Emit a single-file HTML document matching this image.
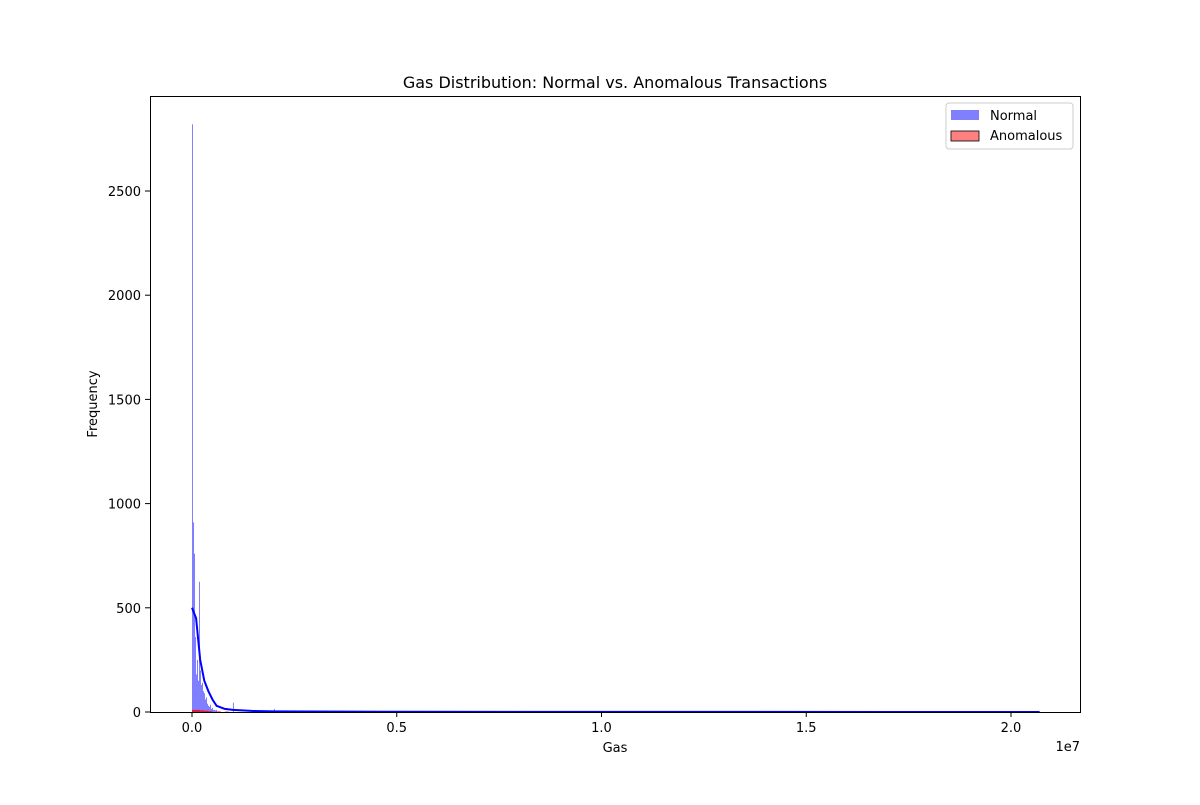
<!DOCTYPE html>
<html><head><meta charset="utf-8"><style>
body{margin:0;background:#fff;font-family:"Liberation Sans","DejaVu Sans",sans-serif}
svg text{font-family:"DejaVu Sans","Liberation Sans",sans-serif;font-size:13px}
</style></head><body>
<svg id="c" width="1200" height="800">
<rect x="0" y="0" width="1200" height="800" fill="#fff"/>
<text x="615" y="88" text-anchor="middle" font-size="16" style="font-size:16px">Gas Distribution: Normal vs. Anomalous Transactions</text>
<g id="bars"></g>
<g id="axes"></g>
<g>
<rect x="946" y="103" width="127" height="46" fill="#fff" stroke="#ccc" rx="3"/>
<rect x="951" y="110" width="28" height="10" fill="#8080ff"/>
<text x="990" y="120">Normal</text>
<rect x="951" y="131" width="28" height="10" fill="#ff8080" stroke="#000" stroke-width="0.8"/>
<text x="990" y="140">Anomalous</text>
</g>
</svg>
<script>
const binWidth = 24420;
const normalBinStarts = [0,24420,48840,73260,97680,122100,146520,170940,195360,219780,244200,268620,293040,317460,341880,366300,390720,415140,439560,463980,488400,512820,537240,561660,586080,1000000,2000000,2500000,8000000];
const normalCounts = [2820,910,760,360,180,250,150,625,200,130,140,100,90,60,70,40,30,25,35,15,20,10,10,8,10,45,15,6,5];
const anomBinStarts = [0,100000,200000,300000,400000,600000,800000];
const anomCounts = [10,10,8,6,4,3,2];
const kdeX = [0,100000,200000,300000,400000,500000,600000,800000,1000000,1500000,2000000,5000000,10000000,20700000];
const kdeY = [500,450,250,150,100,60,30,15,10,5,3,1,0.5,0];
const yTicks = [0,500,1000,1500,2000,2500];
const xTicks = [0,5e6,1e7,1.5e7,2e7];
const xTickLabels = ["0.0","0.5","1.0","1.5","2.0"];
const X = v => 192 + v * 819 / 2e7;
const Y = v => 712 - v * 521 / 2500;
const NS = "http://www.w3.org/2000/svg";
function mk(tag, attrs, parent){const e=document.createElementNS(NS,tag);for(const k in attrs)e.setAttribute(k,attrs[k]);parent.appendChild(e);return e;}
const bars = document.getElementById('bars');
normalBinStarts.forEach((s,i)=>{
  const r = mk('rect',{x:X(s),y:Y(normalCounts[i]),width:Math.max(X(s+binWidth)-X(s),1),height:712-Y(normalCounts[i]),fill:'#0000ff','fill-opacity':0.5},bars);
  
  
});
anomBinStarts.forEach((s,i)=>{
  const r = mk('rect',{x:X(s),y:Y(anomCounts[i]),width:X(s+100000)-X(s),height:712-Y(anomCounts[i]),fill:'#ff0000','fill-opacity':0.8},bars);
  
  
});
const kde = mk('polyline',{points:kdeX.map((x,i)=>X(x)+','+Y(kdeY[i])).join(' '),fill:'none',stroke:'#0000ff','stroke-width':2},bars);


const ax = document.getElementById('axes');
const frame = mk('rect',{x:150.5,y:96.5,width:930,height:616,fill:'none',stroke:'#000','stroke-width':1},ax);


yTicks.forEach(t=>{
  mk('line',{x1:145,x2:150,y1:Y(t),y2:Y(t),stroke:'#000'},ax);
  const tx = mk('text',{x:141,y:Y(t)+5,'text-anchor':'end'},ax); tx.textContent=t;
  
  
});
xTicks.forEach((t,i)=>{
  mk('line',{x1:X(t),x2:X(t),y1:712,y2:717,stroke:'#000'},ax);
  const tx = mk('text',{x:X(t),y:732,'text-anchor':'middle'},ax); tx.textContent=xTickLabels[i];
  
  
});
const ex = mk('text',{x:1080,y:751,'text-anchor':'end'},ax); ex.textContent='1e7';


const xl = mk('text',{x:615,y:752,'text-anchor':'middle'},ax); xl.textContent='Gas';


const yl = mk('text',{x:97,y:404,'text-anchor':'middle',transform:'rotate(-90 97 404)'},ax); yl.textContent='Frequency';


</script>
</body></html>
